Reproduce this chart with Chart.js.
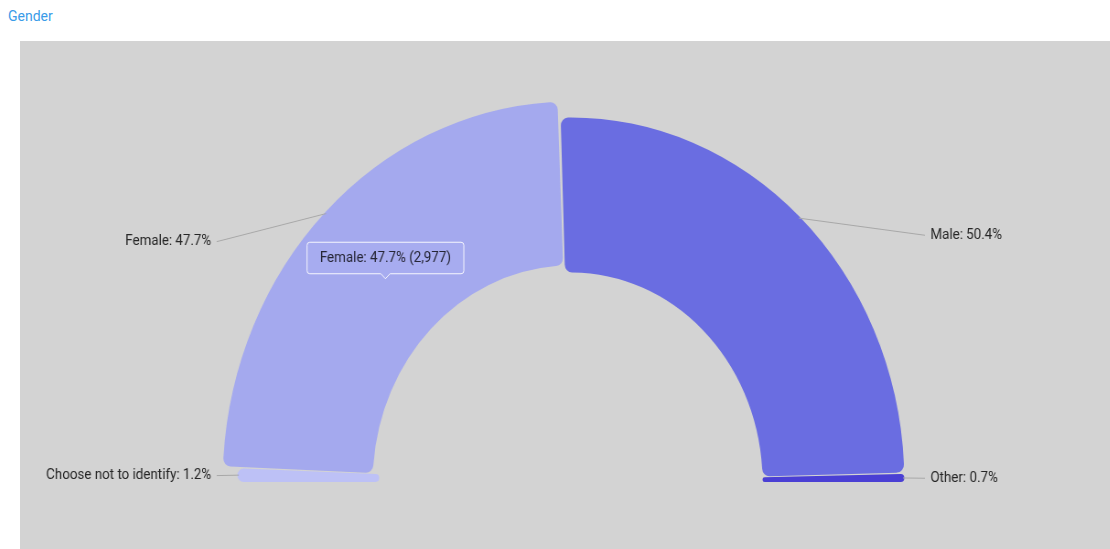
<!DOCTYPE html>
<html>
<head>
<meta charset="utf-8">
<script src="https://cdn.jsdelivr.net/npm/chart.js@4/dist/chart.umd.min.js"></script>
<style>
  body { margin: 0; background: #fff; width: 1110px; height: 549px; overflow: hidden; font-family: Roboto, sans-serif; }
  #tab { position: absolute; left: 8px; top: 8px; font-size: 14px; color: #3a9be8; }
  #panel { position: absolute; left: 20px; top: 41px; width: 1090px; height: 508px; background: #d3d3d3; overflow: hidden; }
  #genderChart { display: block; transform: scaleX(0.915); transform-origin: 0 0; }
</style>
</head>
<body>
<div id="tab">Gender</div>
<div id="panel"><canvas id="genderChart" width="1191" height="508"></canvas></div>
<script>
const labels = ['Choose not to identify', 'Female', 'Male', 'Other'];
const counts = [75, 2977, 3146, 44];
const colors = ['#bdc1f6', '#a4a9ee', '#6a6de1', '#4a3fd4'];
const highlighted = 1; // Female slice, shown raised with its tooltip

const total = counts.reduce((a, b) => a + b, 0);
const pct = v => (v / total * 100).toFixed(1) + '%';

const GROW_OUTER = 16;
const GROW_INNER = 7;

// raises the highlighted slice and draws the outside labels with leader lines
const sliceLabels = {
  id: 'sliceLabels',
  beforeDatasetsDraw(chart) {
    const arc = chart.getDatasetMeta(0).data[highlighted];
    arc.outerRadius += GROW_OUTER;
    arc.innerRadius += GROW_INNER;
  },
  afterDatasetsDraw(chart) {
    const meta = chart.getDatasetMeta(0);
    const hi = meta.data[highlighted];
    hi.outerRadius -= GROW_OUTER;
    hi.innerRadius -= GROW_INNER;

    const ctx = chart.ctx;
    ctx.save();
    ctx.font = '14.6px Roboto';
    ctx.textBaseline = 'middle';
    meta.data.forEach((arc, i) => {
      const mid = (arc.startAngle + arc.endAngle) / 2;
      const R = arc.outerRadius;
      const r = R + (i === highlighted ? GROW_OUTER : 0);
      const left = Math.cos(mid) < 0;
      const sx = arc.x + Math.cos(mid) * r;
      const sy = arc.y + Math.sin(mid) * r;
      const ly = arc.y + Math.sin(mid) * R * 0.935;
      const ex = arc.x + (left ? -1 : 1) * (R + 24);

      ctx.strokeStyle = '#a8a8a8';
      ctx.lineWidth = 1;
      ctx.beginPath();
      ctx.moveTo(sx, sy);
      ctx.lineTo(ex, ly);
      ctx.stroke();

      ctx.fillStyle = '#262626';
      ctx.textAlign = left ? 'right' : 'left';
      ctx.fillText(`${labels[i]}: ${pct(counts[i])}`, ex + (left ? -6 : 6), ly);
    });
    ctx.restore();
  }
};

Chart.defaults.font.family = 'Roboto';

const ctx = document.getElementById('genderChart').getContext('2d');
const chart = new Chart(ctx, {
  type: 'doughnut',
  data: {
    labels: labels,
    datasets: [{
      data: counts,
      backgroundColor: colors,
      borderWidth: 0,
      borderRadius: 8,
      spacing: 3
    }]
  },
  options: {
    responsive: false,
    animation: false,
    events: [],
    rotation: -90,
    circumference: 180,
    radius: 363,
    cutout: '57.3%',
    layout: { padding: { top: 77, bottom: 66, left: 13, right: 0 } },
    plugins: {
      legend: { display: false },
      tooltip: {
        backgroundColor: 'rgba(167,172,240,0.97)',
        borderColor: 'rgba(255,255,255,0.9)',
        borderWidth: 1,
        bodyColor: '#262636',
        bodyFont: { family: 'Roboto', size: 14.6 },
        padding: { top: 7, bottom: 7, left: 14, right: 14 },
        cornerRadius: 3,
        caretSize: 5,
        caretPadding: 0,
        displayColors: false,
        xAlign: 'center',
        yAlign: 'bottom',
        callbacks: {
          title: () => '',
          label: c => `${c.label}: ${pct(c.raw)} (${c.raw.toLocaleString('en-US')})`
        }
      }
    }
  },
  plugins: [sliceLabels]
});

chart.tooltip.setActiveElements([{ datasetIndex: 0, index: highlighted }], { x: 0, y: 0 });
chart.draw();
</script>
</body>
</html>
